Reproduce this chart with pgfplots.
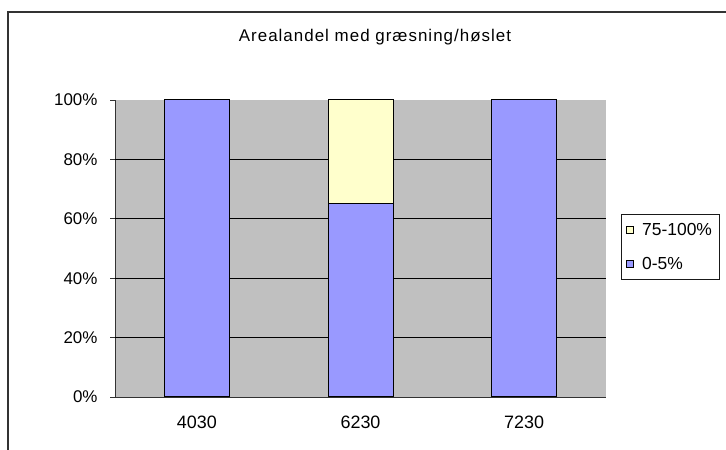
\documentclass[border=0pt]{standalone}
\usepackage{fontspec}
\setmainfont{Liberation Sans}
\newfontfamily\titlefont[LetterSpace=6]{Liberation Sans}
\usepackage{pgfplots}
\pgfplotsset{compat=1.18}

\definecolor{barblue}{HTML}{9999FF}
\definecolor{baryellow}{HTML}{FFFFCC}
\definecolor{plotgray}{HTML}{C0C0C0}

\begin{document}
\begin{tikzpicture}[x=1bp,y=1bp]
\path[use as bounding box] (0,0) rectangle (726,450);
% chart frame
\draw[line width=1.2bp, black!80] (8,0) -- (8,438) -- (727,438);
\node[font=\titlefont\fontsize{17}{19}\selectfont] at (375,413) {Arealandel med græsning/høslet};

\begin{axis}[
    at={(115bp,53bp)}, anchor=south west,
    scale only axis,
    width=491bp, height=297bp,
    font=\fontsize{17}{20}\selectfont,
    /pgf/number format/assume math mode=true,
    ybar stacked,
    bar width=65bp,
    xmin=-0.5, xmax=2.5,
    ymin=0, ymax=100,
    axis background/.style={fill=plotgray},
    axis x line*=bottom, axis y line*=left,
    axis line style={black!80, line width=0.8bp},
    tick align=outside,
    tick style={black!80, line width=0.8bp},
    xtick={0,1,2},
    xticklabels={4030,6230,7230},
    x tick style={draw=none},
    xticklabel style={yshift=-10bp, font=\fontsize{18}{20}\selectfont},
    extra x ticks={-0.5,0.5,1.5,2.5},
    extra x tick labels={},
    extra x tick style={major tick length=6bp, tick style={draw=black!80}},
    ytick={0,20,40,60,80,100},
    yticklabel={\pgfmathprintnumber{\tick}\%},
    yticklabel style={xshift=-9bp},
    major tick length=5bp,
    extra y ticks={20,40,60,80},
    extra y tick labels={},
    extra y tick style={grid=major, major tick length=0pt},
    grid style={black, line width=0.8bp},
    legend cell align=left,
    reverse legend,
    legend style={at={(1.0305,0.616)}, anchor=north west,
        draw=black!90, line width=0.8bp, font=\fontsize{17.5}{20}\selectfont,
        inner xsep=5bp, inner ysep=7bp, row sep=16bp, column sep=6bp},
    legend image code/.code={\draw[#1, draw=black, line width=0.8bp] (0bp,-3bp) rectangle (7bp,4bp);},
]
\addplot[fill=barblue, draw=black, line width=1bp] coordinates {(0,100) (1,65) (2,100)};
\addplot[fill=baryellow, draw=black, line width=1bp] coordinates {(0,0) (1,35) (2,0)};
\legend{0-5\%, 75-100\%}
\end{axis}
\end{tikzpicture}
\end{document}
